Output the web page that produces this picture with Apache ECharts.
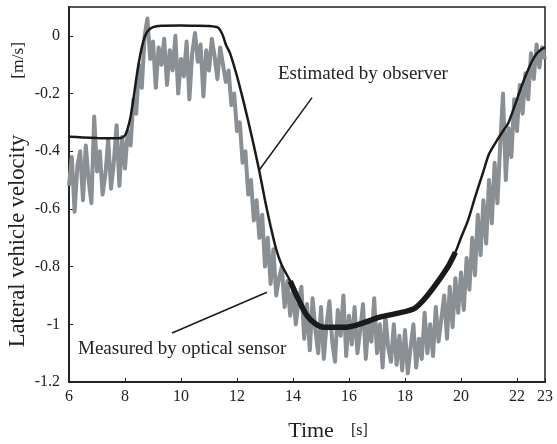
<!DOCTYPE html>
<html>
<head>
<meta charset="utf-8">
<script src="https://cdn.jsdelivr.net/npm/echarts@6/dist/echarts.min.js"></script>
<style>
html, body { margin: 0; padding: 0; background: #fff; }
#chart { width: 557px; height: 444px; }
</style>
</head>
<body>
<div id="chart"></div>
<script>
// measured by optical sensor, sampled every 0.1 s from t = 6 s
const measuredStart = 6
const measuredStep = 0.1
const measuredV = [
  -0.52, -0.42, -0.61, -0.45, -0.40, -0.57, -0.38, -0.50, -0.58, -0.28,
  -0.47, -0.40, -0.55, -0.48, -0.36, -0.53, -0.44, -0.31, -0.52, -0.35,
  -0.46, -0.33, -0.38, -0.22, -0.27, -0.10, -0.18, 0.00, 0.06, -0.08,
  -0.02, -0.18, -0.04, -0.10, -0.01, -0.17, -0.05, -0.12, 0.00, -0.20,
  -0.08, -0.14, -0.02, -0.22, -0.06, 0.01, -0.09, -0.03, -0.21, -0.05,
  -0.12, -0.01, -0.07, -0.15, -0.04, -0.10, -0.16, -0.12, -0.24, -0.20,
  -0.33, -0.30, -0.44, -0.40, -0.55, -0.50, -0.64, -0.57, -0.70, -0.62,
  -0.80, -0.70, -0.86, -0.74, -0.90, -0.84, -0.80, -0.94, -0.85, -0.97,
  -0.88, -1.00, -0.92, -0.87, -1.05, -0.93, -1.09, -0.91, -1.02, -1.10,
  -0.94, -1.12, -1.00, -0.92, -1.06, -1.13, -0.95, -1.04, -0.90, -1.11,
  -0.97, -1.07, -0.94, -1.10, -1.02, -0.93, -1.12, -0.99, -1.06, -0.91,
  -1.10, -1.00, -1.15, -0.97, -1.08, -1.13, -1.00, -1.14, -1.04, -1.16,
  -1.02, -1.17, -1.08, -1.00, -1.15, -1.05, -1.12, -0.96, -1.10, -1.00,
  -1.11, -0.94, -1.06, -0.98, -0.90, -1.05, -0.87, -1.01, -0.84, -0.96,
  -0.82, -0.95, -0.77, -0.88, -0.70, -0.83, -0.62, -0.76, -0.57, -0.72,
  -0.50, -0.65, -0.44, -0.58, -0.38, -0.20, -0.50, -0.32, -0.42, -0.22,
  -0.33, -0.17, -0.27, -0.13, -0.22, -0.06, -0.15, -0.03, -0.11, -0.04,
  -0.08
]

// estimated by observer
const observerT = [6, 6.5, 7, 7.5, 7.85, 8.0, 8.1, 8.2, 8.3, 8.4, 8.5, 8.6, 8.7, 8.8, 9.0, 9.3,
  10, 10.5, 11, 11.2, 11.3, 11.4, 11.5, 11.6, 11.75, 12.0, 12.2, 12.4, 12.6, 12.8, 13.0,
  13.2, 13.4, 13.6, 13.9, 14.2, 14.5, 14.8, 15.1, 15.9, 17.1, 18.3, 18.8, 19.5, 19.8,
  20.0, 20.25, 20.5, 20.8, 21.0, 21.3, 21.5, 21.7, 22.0, 22.2, 22.5, 22.7, 22.9, 23]
const observerV = [-0.350, -0.352, -0.354, -0.355, -0.354, -0.345, -0.32, -0.28, -0.22, -0.15,
  -0.09, -0.04, -0.005, 0.015, 0.03, 0.035, 0.036, 0.035, 0.034, 0.032, 0.03, 0.02, 0.0,
  -0.03, -0.06, -0.14, -0.215, -0.295, -0.38, -0.47, -0.57, -0.66, -0.74, -0.795, -0.85,
  -0.915, -0.97, -0.998, -1.01, -1.01, -0.975, -0.947, -0.90, -0.806, -0.75,
  -0.70, -0.64, -0.56, -0.47, -0.41, -0.36, -0.33, -0.30, -0.22, -0.165, -0.095, -0.062,
  -0.045, -0.04]
// span where the observer trace is drawn heavy
const observerHeavy = [13.9, 19.8]

const xTicks = { min: 6, max: 23, interval: 2 }
const yTicks = { min: -1.2, max: 0.1, interval: 0.2 }

// arrow annotations (data coordinates: tail, head)
const arrows = [
  [[14.68, -0.214], [12.79, -0.466]],
  [[9.68, -1.03], [13.07, -0.889]]
]

const serif = '"Liberation Serif", "DejaVu Serif", serif'

const measured = measuredV.map((v, i) => [+(measuredStart + i * measuredStep).toFixed(2), v])
const observer = observerT.map((t, i) => [t, observerV[i]])
const observerBand = observer.filter(p => p[0] >= observerHeavy[0] && p[0] <= observerHeavy[1])

const chart = echarts.init(document.getElementById('chart'))
chart.setOption({
  animation: false,
  backgroundColor: '#fff',
  grid: {
    left: 69, right: 12, top: 7, bottom: 62,
    outerBoundsMode: 'none',
    containLabel: false,
    show: true, borderColor: '#222', borderWidth: 1.5
  },
  xAxis: {
    type: 'value',
    min: xTicks.min, max: xTicks.max, interval: xTicks.interval,
    name: '{a|Time}{b|[s]}',
    nameLocation: 'middle',
    nameGap: 38,
    nameMoveOverlap: false,
    nameTextStyle: {
      padding: [0, 0, 0, 42],
      rich: {
        a: { fontFamily: serif, fontSize: 22, color: '#222' },
        b: { fontFamily: serif, fontSize: 16, color: '#222', padding: [0, 0, 0, 17] }
      }
    },
    axisLine: { onZero: false, lineStyle: { color: '#222', width: 2 } },
    axisTick: { inside: true, length: 4, lineStyle: { color: '#222' } },
    axisLabel: { fontFamily: serif, fontSize: 16, color: '#222', margin: 7 },
    splitLine: { show: false }
  },
  yAxis: {
    type: 'value',
    min: yTicks.min, max: yTicks.max, interval: yTicks.interval,
    name: '{a|Lateral vehicle velocity}{b|[m/s]}',
    nameLocation: 'middle',
    nameGap: 39,
    nameMoveOverlap: false,
    nameTextStyle: {
      rich: {
        a: { fontFamily: serif, fontSize: 22.5, color: '#222' },
        b: { fontFamily: serif, fontSize: 17.5, color: '#222', padding: [0, 0, 0, 56] }
      }
    },
    axisLine: { onZero: false, lineStyle: { color: '#222', width: 2 } },
    axisTick: { inside: true, length: 4, lineStyle: { color: '#222' } },
    axisLabel: { fontFamily: serif, fontSize: 16, color: '#222', margin: 9, showMaxLabel: false },
    splitLine: { show: false }
  },
  series: [
    {
      name: 'Measured by optical sensor',
      type: 'line',
      data: measured,
      showSymbol: false,
      lineStyle: { color: '#8a8f94', width: 4, join: 'round' },
      z: 2
    },
    {
      name: 'Estimated by observer',
      type: 'line',
      data: observer,
      showSymbol: false,
      smooth: 0.25,
      lineStyle: { color: '#1a1a1a', width: 2.5 },
      z: 3,
      markLine: {
        silent: true,
        symbol: ['none', 'arrow'],
        symbolSize: [0, 11],
        label: { show: false },
        lineStyle: { color: '#1a1a1a', width: 1.5, type: 'solid' },
        data: arrows.map(a => [{ coord: a[0] }, { coord: a[1] }])
      }
    },
    {
      name: 'Estimated by observer (heavy)',
      type: 'line',
      data: observerBand,
      showSymbol: false,
      smooth: 0.25,
      lineStyle: { color: '#1a1a1a', width: 5.5 },
      z: 3
    }
  ],
  graphic: [
    {
      type: 'text', left: 278, top: 65,
      style: { text: 'Estimated by observer', font: '19px ' + serif, fill: '#222' }
    },
    {
      type: 'text', left: 78, top: 340,
      style: { text: 'Measured by optical sensor', font: '19px ' + serif, fill: '#222' }
    }
  ]
})
</script>
</body>
</html>
